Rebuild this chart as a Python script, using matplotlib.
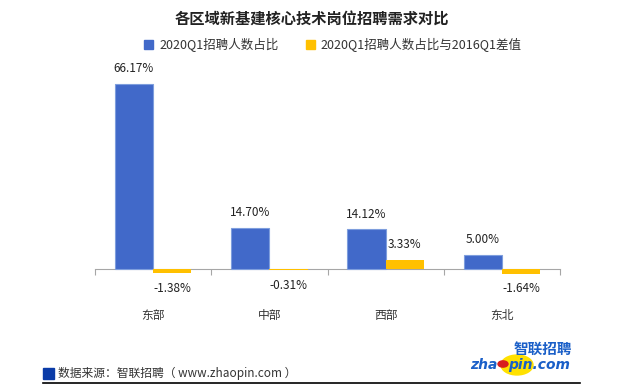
import matplotlib
matplotlib.use("Agg")
import matplotlib.pyplot as plt
from matplotlib.patches import Patch, Circle, Rectangle
from matplotlib.lines import Line2D

plt.rcParams['font.family'] = ['Noto Sans CJK SC', 'DejaVu Sans']

title = "各区域新基建核心技术岗位招聘需求对比"
regions = ["东部", "中部", "西部", "东北"]
share_2020 = [66.17, 14.70, 14.12, 5.00]
diff_2016 = [-1.38, -0.31, 3.33, -1.64]
series_names = ["2020Q1招聘人数占比", "2020Q1招聘人数占比与2016Q1差值"]
source = "数据来源：智联招聘（ www.zhaopin.com ）"

blue = "#4169C9"
yellow = "#FFC000"

fig = plt.figure(figsize=(6.25, 3.89), dpi=100)
ax = fig.add_axes([95/625, 1-297/389, 465/625, 224/389])

x = list(range(len(regions)))
w = 0.33
b1 = ax.bar([i - w/2 for i in x], share_2020, w, color=blue, edgecolor="#7E9EDD",
            linewidth=0.8, zorder=3)
b2 = ax.bar([i + w/2 for i in x], diff_2016, w, color=yellow, linewidth=0, zorder=3)

for bars, vals in ((b1, share_2020), (b2, diff_2016)):
    for r, v in zip(bars, vals):
        cx = r.get_x() + r.get_width()/2
        off = 11 if v >= 0 else -11
        ax.annotate(f"{v:.2f}%", (cx, v), xytext=(0, off), textcoords="offset points",
                    ha="center", va="center", fontsize=8.5, color="#222222")

ax.set_xlim(-0.5, len(regions) - 0.5)
ax.set_ylim(-10, 70)
for s in ("top", "right", "left"):
    ax.spines[s].set_visible(False)
ax.spines["bottom"].set_position(("data", 0))
ax.spines["bottom"].set_color("#A6A6A6")
ax.set_yticks([])
ax.set_xticks([i - 0.5 for i in range(len(regions) + 1)])
ax.set_xticklabels([])
ax.tick_params(axis="x", length=4, color="#A6A6A6", direction="out")

for i, name in enumerate(regions):
    fig.text((95 + 116.25*(i + 0.5))/625, 1-316/389, name, ha="center", va="center",
             fontsize=8.5, color="#333333")

fig.text(312/625, 1-19/389, title, ha="center", va="center", fontsize=11,
         fontweight="bold", color="#222222")

handles = [Patch(color=blue), Patch(color=yellow)]
fig.legend(handles, series_names, loc="center", bbox_to_anchor=(333/625, 1-45/389), ncol=2,
           frameon=False, fontsize=9, handlelength=0.7, handleheight=0.7,
           handletextpad=0.5, columnspacing=2.2, labelcolor="#333333")

# footer
fig.patches.append(Rectangle((43/625, 1-379/389), 11/625, 11/389, transform=fig.transFigure,
                             color="#0A3BA8"))
fig.text(58/625, 1-373/389, source, ha="left", va="center", fontsize=8.5, color="#333333")
fig.add_artist(Line2D([43/625, 580/625], [1-383/389, 1-383/389], color="black", lw=1.2,
                      transform=fig.transFigure))

# logo
fig.patches.append(Circle((517/625, 1-365/389), 16/625, transform=fig.transFigure,
                          color="#FFE100", zorder=1))
fig.patches.append(Circle((503/625, 1-364/389), 5/625, transform=fig.transFigure,
                          color="#D81E1E", zorder=2))
fig.text(497/625, 1-365/389, "zha", ha="right", va="center", fontsize=10, fontweight="bold",
         style="italic", color="#1A5FC8", family="DejaVu Sans", zorder=3)
fig.text(508/625, 1-365/389, "pin.com", ha="left", va="center", fontsize=10, fontweight="bold",
         style="italic", color="#1A5FC8", family="DejaVu Sans", zorder=3)
fig.text(543/625, 1-349/389, "智联招聘", ha="center", va="center", fontsize=10.5,
         fontweight="bold", color="#1A5FC8", zorder=3)

fig.savefig("out.png", dpi=100, facecolor="white")
